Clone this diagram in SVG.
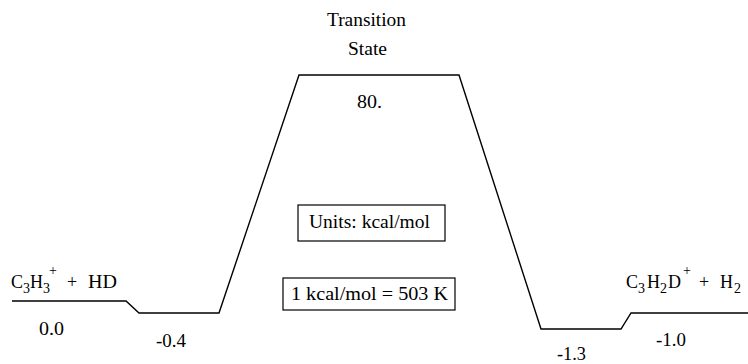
<svg xmlns="http://www.w3.org/2000/svg" width="748" height="364" viewBox="0 0 748 364">
<style>
.s{font-size:14px}
.box{fill:#fff;stroke:#000;stroke-width:1.2}
.path{fill:none;stroke:#000;stroke-width:1.4;stroke-linejoin:miter}
</style>
<rect width="748" height="364" fill="#fff"/>
<g id="connectors">
<polyline class="path" points="12,301 126,301 139,313 219,313 299,75 459,75 541,329 621,329 631,313 748,313"/>
</g>
<g font-family="'Liberation Serif', 'Times New Roman', serif" font-size="18" fill="#000">
<g id="transition-state">
<text x="327" y="26" textLength="79" lengthAdjust="spacingAndGlyphs">Transition</text>
<text x="348" y="55" textLength="39" lengthAdjust="spacingAndGlyphs">State</text>
<text x="357" y="108" textLength="25" lengthAdjust="spacingAndGlyphs">80.</text>
</g>
<g id="reactants">
<text y="288"><tspan x="11">C</tspan><tspan class="s" x="23" y="293">3</tspan><tspan x="30" y="288">H</tspan><tspan class="s" x="43" y="293">3</tspan><tspan class="s" x="49" y="275">+</tspan><tspan x="67" y="288">+</tspan><tspan x="88" textLength="29" lengthAdjust="spacingAndGlyphs">HD</tspan></text>
<text x="39" y="335" textLength="25" lengthAdjust="spacingAndGlyphs">0.0</text>
</g>
<g id="complex-1">
<text x="156" y="347" textLength="30" lengthAdjust="spacingAndGlyphs">-0.4</text>
</g>
<g id="complex-2">
<text x="557" y="360" textLength="29" lengthAdjust="spacingAndGlyphs">-1.3</text>
</g>
<g id="products">
<text y="288"><tspan x="626">C</tspan><tspan class="s" x="638" y="293">3</tspan><tspan x="647" y="288">H</tspan><tspan class="s" x="660" y="293">2</tspan><tspan x="668" y="288">D</tspan><tspan class="s" x="683" y="275">+</tspan><tspan x="699" y="288">+</tspan><tspan x="720">H</tspan><tspan class="s" x="734" y="293">2</tspan></text>
<text x="656" y="346" textLength="30" lengthAdjust="spacingAndGlyphs">-1.0</text>
</g>
<g id="units-box">
<rect class="box" x="298" y="205" width="147" height="36"/>
<text x="309" y="228" textLength="121" lengthAdjust="spacingAndGlyphs">Units: kcal/mol</text>
</g>
<g id="conversion-box">
<rect class="box" x="283" y="278" width="172" height="32"/>
<text x="291" y="300" textLength="157" lengthAdjust="spacingAndGlyphs">1 kcal/mol = 503 K</text>
</g>
</g>
</svg>
